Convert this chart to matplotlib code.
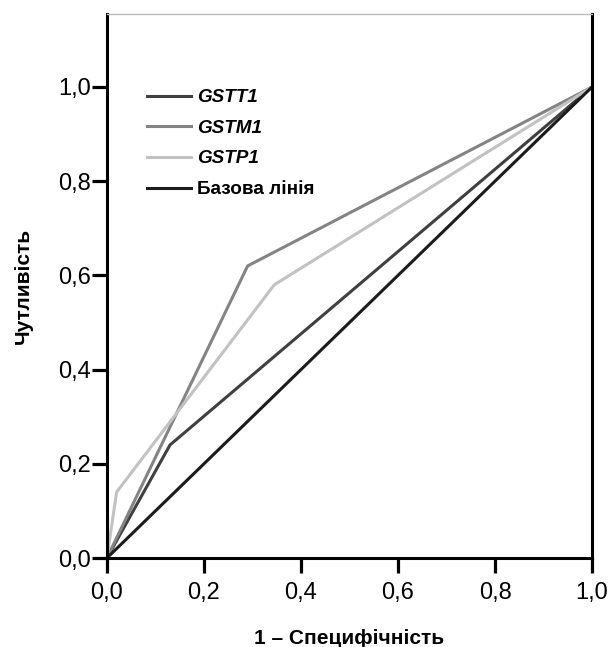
import matplotlib.pyplot as plt

plt.rcParams['font.family'] = ['Liberation Sans', 'DejaVu Sans']

# ROC curves
gstt1_fpr = [0.0, 0.13, 1.0]
gstt1_tpr = [0.0, 0.24, 1.0]
gstm1_fpr = [0.0, 0.29, 1.0]
gstm1_tpr = [0.0, 0.62, 1.0]
gstp1_fpr = [0.0, 0.02, 0.345, 1.0]
gstp1_tpr = [0.0, 0.14, 0.58, 1.0]
base_x = [0.0, 1.0]
base_y = [0.0, 1.0]

ticks = [0.0, 0.2, 0.4, 0.6, 0.8, 1.0]
tick_labels = ['0,0', '0,2', '0,4', '0,6', '0,8', '1,0']

fig = plt.figure(figsize=(6.11, 6.47), dpi=100)
ax = fig.add_axes([0.175, 0.1375, 0.794, 0.841])

ax.plot(gstt1_fpr, gstt1_tpr, color='#404040', lw=2.2, label='GSTT1')
ax.plot(gstm1_fpr, gstm1_tpr, color='#848484', lw=2.2, label='GSTM1')
ax.plot(gstp1_fpr, gstp1_tpr, color='#c2c2c2', lw=2.2, label='GSTP1')
ax.plot(base_x, base_y, color='#1c1c1c', lw=2.2, label='Базова лінія')

ax.set_xlim(0, 1)
ax.set_ylim(0, 1.155)
ax.set_xticks(ticks)
ax.set_xticklabels(tick_labels)
ax.set_yticks(ticks)
ax.set_yticklabels(tick_labels)
ax.tick_params(direction='out', length=11, width=2.3, labelsize=17)
ax.tick_params(axis='x', pad=6)
ax.tick_params(axis='y', pad=0.5)

for s in ['left', 'bottom', 'right']:
    ax.spines[s].set_linewidth(2.2)
ax.spines['top'].set_color('#bbbbbb')
ax.spines['top'].set_linewidth(1.0)

ax.set_xlabel('1 – Специфічність', fontsize=15, fontweight='bold', labelpad=18)
ax.set_ylabel('Чутливість', fontsize=15, fontweight='bold', labelpad=18)

leg = ax.legend(loc='upper left', bbox_to_anchor=(0.082, 0.862), frameon=False,
                borderpad=0, borderaxespad=0, handlelength=2.33, handletextpad=0.35,
                labelspacing=0.71, prop={'size': 13.6, 'weight': 'bold'})
for t in leg.get_texts()[:3]:
    t.set_style('italic')

plt.savefig('out.png', dpi=100)
